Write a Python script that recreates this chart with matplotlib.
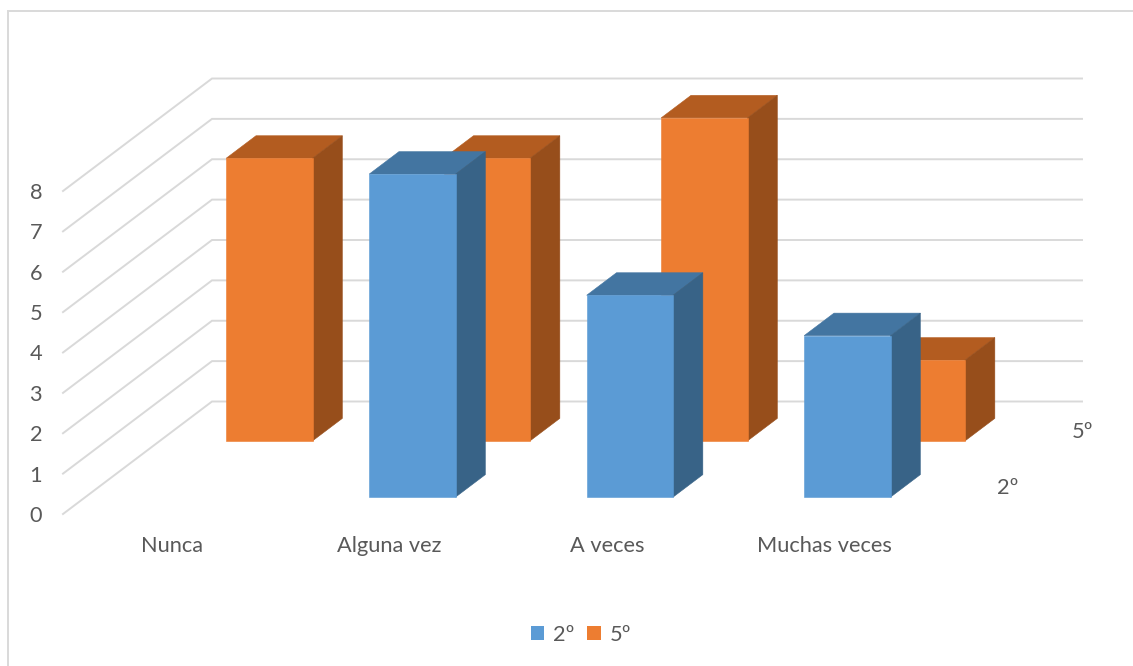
import matplotlib
matplotlib.use('Agg')
import matplotlib.pyplot as plt
from matplotlib.lines import Line2D
from matplotlib.patches import Patch, Polygon

plt.rcParams['font.family'] = ['Lato', 'DejaVu Sans']

##########################################################
# Data
categories = ['Nunca', 'Alguna vez', 'A veces', 'Muchas veces']
values_2 = [0, 8, 5, 4]
values_5 = [7, 7, 8, 2]
value_ticks = [0, 1, 2, 3, 4, 5, 6, 7, 8]
series_names = ['2º', '5º']

##########################################################
# Style and layout
W, H = 1133, 666
TEXT = '#595959'
GRID = '#d9d9d9'
FONT = 15.7

# front plane of the chart in pixels
LEFT, RIGHT, FLOOR, CEIL = 63, 933, 514, 191
# size of the full depth in pixels
DEPTH_X, DEPTH_Y = 149, 112.5

# (front, top, side) colours of each series
blue = ('#5b9bd5', '#4375a1', '#386387')
orange = ('#ed7d31', '#b35c20', '#974e1b')

BAR_START = 0.305
BAR_WIDTH = 0.397
BAR_DEPTH = 0.2

fig = plt.figure(figsize=(W / 100, H / 100), dpi=100)
ax = fig.add_axes([LEFT / W, 1 - FLOOR / H, (RIGHT - LEFT) / W, (FLOOR - CEIL) / H])
ax.set_xlim(0, len(categories))
ax.set_ylim(0, 8)

unit_x = (RIGHT - LEFT) / len(categories)
unit_y = (FLOOR - CEIL) / 8


def project(x, y, d):
    # oblique projection, d goes from 0 (front) to 1 (back wall)
    return x + d * DEPTH_X / unit_x, y + d * DEPTH_Y / unit_y


##########################################################
# Walls
for v in value_ticks:
    x0, y0 = project(0, v, 0)
    x1, y1 = project(0, v, 1)
    x2, y2 = project(len(categories), v, 1)
    ax.plot([x0, x1, x2], [y0, y1, y2], color=GRID, lw=1.4, zorder=1, clip_on=False,
            solid_joinstyle='miter')


##########################################################
# Bars
def draw_bar(i, value, depth, colors, z):
    if value == 0:
        return
    a = i + BAR_START
    b = a + BAR_WIDTH
    d0 = depth - BAR_DEPTH / 2
    d1 = depth + BAR_DEPTH / 2
    faces = [
        ([(a, value, d0), (b, value, d0), (b, value, d1), (a, value, d1)], colors[1]),
        ([(b, 0, d0), (b, 0, d1), (b, value, d1), (b, value, d0)], colors[2]),
        ([(a, 0, d0), (b, 0, d0), (b, value, d0), (a, value, d0)], colors[0]),
    ]
    for corners, color in faces:
        points = [project(*c) for c in corners]
        ax.add_patch(Polygon(points, closed=True, facecolor=color, edgecolor=color,
                             lw=0.4, zorder=z, clip_on=False))


for i, v in enumerate(values_5):
    draw_bar(i, v, 0.75, orange, 2)
for i, v in enumerate(values_2):
    draw_bar(i, v, 0.25, blue, 3)

##########################################################
# Axes text
ax.set_xticks([i + 0.5 for i in range(len(categories))])
ax.set_xticklabels(categories)
ax.set_yticks(value_ticks)
ax.tick_params(axis='x', length=0, pad=16, labelsize=FONT, labelcolor=TEXT)
ax.tick_params(axis='y', length=0, pad=15, labelsize=FONT, labelcolor=TEXT)
for side in ax.spines.values():
    side.set_visible(False)
ax.patch.set_alpha(0)

# depth axis labels
for name, depth in zip(series_names, [0.25, 0.75]):
    ax.annotate(name, project(len(categories), 0, depth), xytext=(27, -1.5),
                textcoords='offset points', ha='center', va='center',
                fontsize=FONT, color=TEXT, annotation_clip=False)

##########################################################
# Legend and frame
handles = [Patch(facecolor=blue[0], label=series_names[0]),
           Patch(facecolor=orange[0], label=series_names[1])]
fig.legend(handles=handles, loc='center', bbox_to_anchor=(0.5128, 1 - 635 / H), ncol=2,
           frameon=False, fontsize=FONT, labelcolor=TEXT, handlelength=0.62,
           handleheight=0.62, handletextpad=0.4, columnspacing=0.6)

fig.add_artist(Line2D([8 / W, 8 / W, 1], [0, 1 - 11 / H, 1 - 11 / H], color=GRID, lw=1.4,
                      solid_joinstyle='miter'))

fig.savefig('out.png', dpi=100)
